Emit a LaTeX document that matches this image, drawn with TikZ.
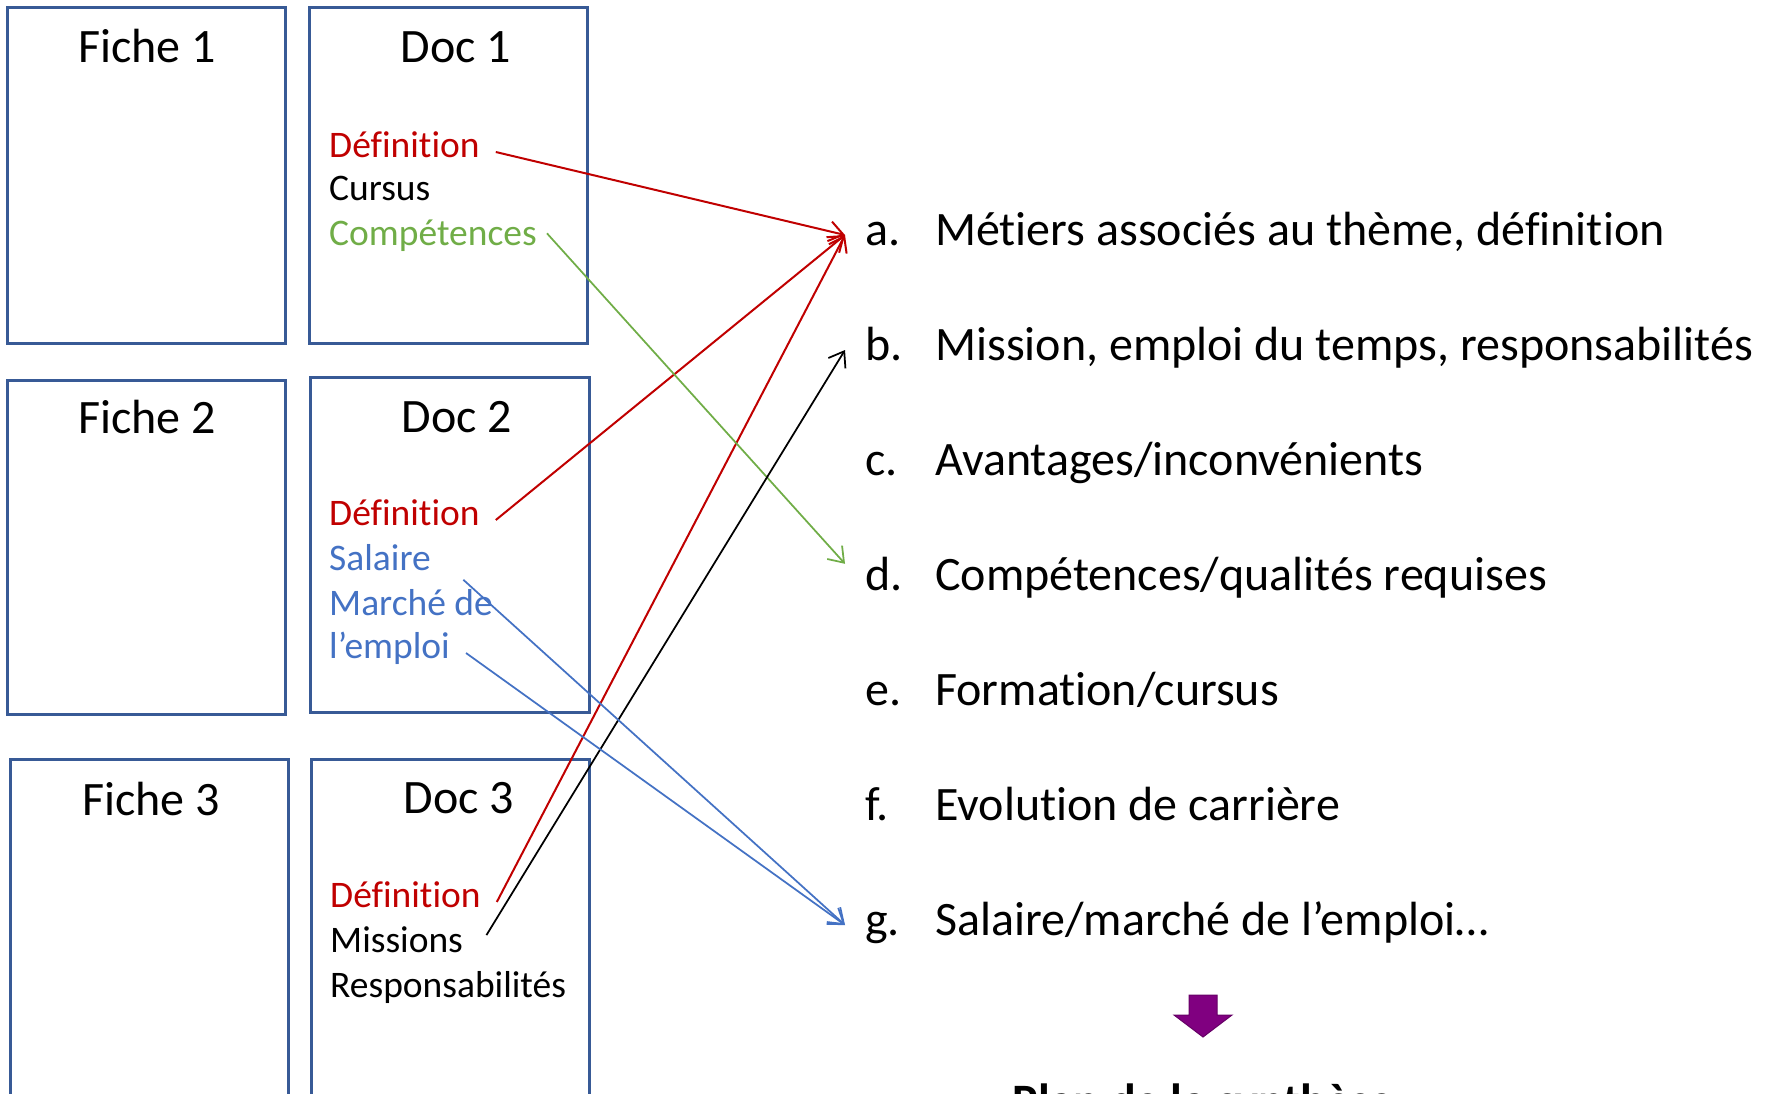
\documentclass[tikz,border=0pt]{standalone}
\usepackage{fontspec}
\setmainfont{Carlito}[Ligatures=NoCommon]
\usetikzlibrary{arrows.meta}
\definecolor{boxblue}{RGB}{56,90,150}
\definecolor{defred}{RGB}{192,0,0}
\definecolor{compgreen}{RGB}{112,173,71}
\definecolor{salblue}{RGB}{68,114,196}
\definecolor{planpurple}{RGB}{128,0,128}
\tikzset{
  box/.style={draw=boxblue,line width=3pt},
  title/.style={anchor=base,inner sep=0pt,font=\fontsize{48}{52}\selectfont},
  item/.style={anchor=base west,inner xsep=16pt,inner ysep=0pt,text height=10pt,text depth=0pt,font=\fontsize{37.5}{42}\selectfont},
  letter/.style={anchor=base west,inner xsep=20pt,inner ysep=0pt,text height=20pt,text depth=0pt,font=\fontsize{48}{52}\selectfont},
  entry/.style={anchor=base west,inner sep=0pt,font=\fontsize{48}{52}\selectfont},
  link/.style={line width=1.75pt,-{Straight Barb[length=14pt,width=20pt]}}
}
\begin{document}
\begin{tikzpicture}[x=1pt,y=-1pt]
\useasboundingbox (0,0) rectangle (1771,1093);
% fiches and docs
\draw[box] (7,7) rectangle (285,343);
\draw[box] (309,7) rectangle (587,343);
\draw[box] (7,380) rectangle (285,714);
\draw[box] (310,377) rectangle (589,712);
\draw[box] (10,759) rectangle (288,1130);
\draw[box] (311,759) rectangle (589,1130);
\node[title] (fiche1) at (147,62) {Fiche 1};
\node[title] (doc1) at (456,62) {Doc 1};
\node[title] (fiche2) at (147,433) {Fiche 2};
\node[title] (doc2) at (457,432) {Doc 2};
\node[title] (fiche3) at (151,815) {Fiche 3};
\node[title] (doc3) at (459,813) {Doc 3};
% doc contents
\node[item,defred] (def1) at (313,157) {Définition};
\node[item] (cursus) at (313,200) {Cursus};
\node[item,compgreen] (comp) at (313,245) {Compétences};
\node[item,defred] (def2) at (313,525) {Définition};
\node[item,salblue] (salaire) at (313,570) {Salaire};
\node[item,salblue] (marche) at (313,615) {Marché de};
\node[item,salblue] (emploi) at (313,658) {l’emploi};
\node[item,defred] (def3) at (314,907) {Définition};
\node[item] (missions) at (314,952) {Missions};
\node[item] (resp) at (314,997) {Responsabilités};
% plan list
\node[letter] (la) at (845,245) {a.};
\node[letter] (lb) at (845,360) {b.};
\node[letter] (lc) at (845,475) {c.};
\node[letter] (ld) at (845,590) {d.};
\node[letter] (le) at (845,705) {e.};
\node[letter] (lf) at (845,820) {f.};
\node[letter] (lg) at (845,935) {g.};
\node[entry] (ta) at (935,245) {Métiers associés au thème, définition};
\node[entry] (tb) at (935,360) {Mission, emploi du temps, responsabilités};
\node[entry] (tc) at (935,475) {Avantages/inconvénients};
\node[entry] (td) at (935,590) {Compétences/qualités requises};
\node[entry] (te) at (935,705) {Formation/cursus};
\node[entry] (tf) at (935,820) {Evolution de carrière};
\node[entry] (tg) at (935,935) {Salaire/marché de l’emploi…};
% links
\draw[link,defred,line width=2pt] (def1.east) -- (la.west);
\draw[link,defred,line width=2pt] (def2.east) -- (la.west);
\draw[link,defred,line width=2pt] (def3.east) -- (la.west);
\draw[link,compgreen,shorten <=-9pt] (comp.east) -- ([yshift=6pt]ld.north west);
\draw[link,shorten <=14pt] (missions.east) -- (lb.west);
\draw[link,salblue,shorten <=22pt] (salaire.east) -- (lg.west);
\draw[link,salblue] (emploi.east) -- (lg.west);
% down arrow
\filldraw[fill=planpurple,draw=planpurple!80!black,line width=1pt]
  (1189,995) -- (1217,995) -- (1217,1015) -- (1232,1015) -- (1203,1037)
  -- (1174,1015) -- (1189,1015) -- cycle;
\node[anchor=base,inner sep=0pt,font=\bfseries\fontsize{48}{52}\selectfont] (plan) at (1203,1117) {Plan de la synthèse};
\end{tikzpicture}
\end{document}
